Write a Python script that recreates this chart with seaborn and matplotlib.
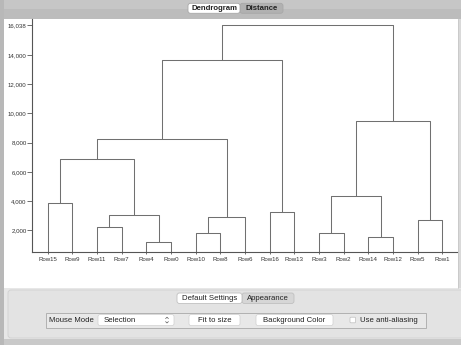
import matplotlib
matplotlib.use("Agg")
import matplotlib.pyplot as plt
from matplotlib.patches import Rectangle, FancyBboxPatch
import pandas as pd
import seaborn as sns

# Leaf labels in display order (left to right)
leaf_labels = ["Row15", "Row9", "Row11", "Row7", "Row4", "Row0", "Row10", "Row8",
               "Row6", "Row16", "Row13", "Row3", "Row2", "Row14", "Row12", "Row5", "Row1"]

# Agglomerative merges: ids 0..16 are leaves, new clusters get ids 17, 18, ...
merge_left = [0, 2, 4, 18, 17, 6, 22, 21, 9, 24, 11, 13, 27, 15, 29, 26]
merge_right = [1, 3, 5, 19, 20, 7, 8, 23, 10, 25, 12, 14, 28, 16, 30, 31]
merge_height = [3850, 2200, 1180, 3070, 6860, 1830, 2930, 8250, 3230, 13660,
                1790, 1540, 4370, 2680, 9460, 16038]

# Y axis ticks
y_ticks = [2000, 4000, 6000, 8000, 10000, 12000, 14000, 16038]
y_tick_labels = ["2,000", "4,000", "6,000", "8,000", "10,000", "12,000", "14,000", "16,038"]

# ---- build dendrogram segments -------------------------------------------
node_x = {i: float(i) for i in range(len(leaf_labels))}
node_h = {i: 0.0 for i in range(len(leaf_labels))}
rows = []
for k, (a, b, h) in enumerate(zip(merge_left, merge_right, merge_height)):
    nid = len(leaf_labels) + k
    pts = [(node_x[a], node_h[a]), (node_x[a], h), (node_x[b], h), (node_x[b], node_h[b])]
    for px, py in pts:
        rows.append({"x": px, "y": py, "seg": k})
    node_x[nid] = (node_x[a] + node_x[b]) / 2
    node_h[nid] = h
segments = pd.DataFrame(rows)

sns.set_style("white")
plt.rcParams["font.family"] = ["Liberation Sans", "DejaVu Sans"]

W, H = 461, 345
fig = plt.figure(figsize=(W / 100, H / 100), dpi=100)

# ---- window chrome (pixel coordinates) ------------------------------------
bg = fig.add_axes([0, 0, 1, 1], zorder=0)
bg.set_xlim(0, W)
bg.set_ylim(H, 0)
bg.axis("off")

def rect(x, y, w, h, fc, ec="none", lw=0.6, rounded=0.0, z=1):
    if rounded:
        p = FancyBboxPatch((x, y), w, h, boxstyle=f"round,pad=0,rounding_size={rounded}",
                           fc=fc, ec=ec, lw=lw, zorder=z)
    else:
        p = Rectangle((x, y), w, h, fc=fc, ec=ec, lw=lw, zorder=z)
    bg.add_patch(p)

GUI_FS = 5.6
rect(0, 0, W, H, "#e7e7e7", z=0)
rect(0, 0, W, 9, "#c6c6c6")
rect(0, 9, W, 9.5, "#bcbcbc")
rect(0, 0, 4, H, "#b8b8b8")
rect(4, 18.5, 454, 269.5, "white")
rect(458, 18.5, 3, 269.5, "#d9d9d9")
bg.plot([458, 458], [18.5, 288], color="#c4c4c4", lw=0.5, zorder=2)
rect(4, 338.5, W, 7, "#c9c9c9")
rect(8, 290, 460, 48, "#e3e3e3", ec="#d0d0d0", rounded=3, z=1)

# top tab control
rect(240, 3.3, 43, 10, "#b1b1b1", ec="#a8a8a8", rounded=2.5, z=2)
rect(188, 3.3, 52, 10, "white", ec="#a8a8a8", rounded=2.5, z=3)
bg.text(214, 8.5, "Dendrogram", ha="center", va="center", fontsize=GUI_FS,
        fontweight="bold", color="#222222", zorder=4)
bg.text(261.5, 8.5, "Distance", ha="center", va="center", fontsize=GUI_FS,
        fontweight="bold", color="#222222", zorder=4)

# bottom tab control
rect(242, 293, 52, 10.5, "#d6d6d6", ec="#c0c0c0", rounded=2.5, z=2)
rect(177, 293, 65, 10.5, "white", ec="#c0c0c0", rounded=2.5, z=3)
bg.text(209.5, 298.3, "Default Settings", ha="center", va="center", fontsize=GUI_FS,
        color="#222222", zorder=4)
bg.text(268, 298.3, "Appearance", ha="center", va="center", fontsize=GUI_FS,
        color="#222222", zorder=4)

# control group box
rect(45.7, 312.7, 380, 15, "#e8e8e8", ec="#a9a9a9", lw=0.6, z=2)
cy = 320.2
bg.text(49, cy, "Mouse Mode", ha="left", va="center", fontsize=GUI_FS, color="#222222", zorder=4)
rect(98, 314.6, 76, 11, "white", ec="#d0d0d0", lw=0.5, rounded=2, z=3)
bg.text(104, cy, "Selection", ha="left", va="center", fontsize=GUI_FS, color="#222222", zorder=4)
bg.plot([165.6, 167, 168.4], [318.6, 317.2, 318.6], color="#555555", lw=0.5, zorder=4)
bg.plot([165.6, 167, 168.4], [321.6, 323.0, 321.6], color="#555555", lw=0.5, zorder=4)
rect(189, 314.6, 51, 11, "white", ec="#d0d0d0", lw=0.5, rounded=2, z=3)
bg.text(214.5, cy, "Fit to size", ha="center", va="center", fontsize=GUI_FS, color="#222222", zorder=4)
rect(256, 314.6, 77, 11, "white", ec="#d0d0d0", lw=0.5, rounded=2, z=3)
bg.text(294.5, cy, "Background Color", ha="center", va="center", fontsize=GUI_FS,
        color="#222222", zorder=4)
rect(350, 317.2, 5.6, 5.6, "white", ec="#bdbdbd", lw=0.5, rounded=1, z=3)
bg.text(360, cy, "Use anti-aliasing", ha="left", va="center", fontsize=GUI_FS,
        color="#222222", zorder=4)

# ---- dendrogram -----------------------------------------------------------
ax = fig.add_axes([32 / W, 1 - 252 / H, 425 / W, 233 / H], zorder=1)
ax.set_facecolor("none")
sns.lineplot(data=segments, x="x", y="y", units="seg", estimator=None, sort=False,
             color="#707070", linewidth=0.75, ax=ax, legend=False)

ax.set_xlim(-0.637, 16.596)
ax.set_ylim(510, 16470)
ax.set_xticks(range(len(leaf_labels)))
ax.set_xticklabels(leaf_labels)
ax.set_yticks(y_ticks)
ax.set_yticklabels(y_tick_labels)
ax.set_xlabel("")
ax.set_ylabel("")
for side in ("top", "right"):
    ax.spines[side].set_visible(False)
for side in ("left", "bottom"):
    ax.spines[side].set_color("#555555")
    ax.spines[side].set_linewidth(0.8)
ax.tick_params(axis="y", direction="out", length=3.5, width=0.6, color="#555555",
               pad=0.4, labelsize=4.4, labelcolor="#333333", left=True)
ax.tick_params(axis="x", direction="out", length=1.5, width=0.6, color="#555555",
               pad=1.8, labelsize=4.4, labelcolor="#333333", bottom=True)

fig.savefig("out.png", dpi=100)
